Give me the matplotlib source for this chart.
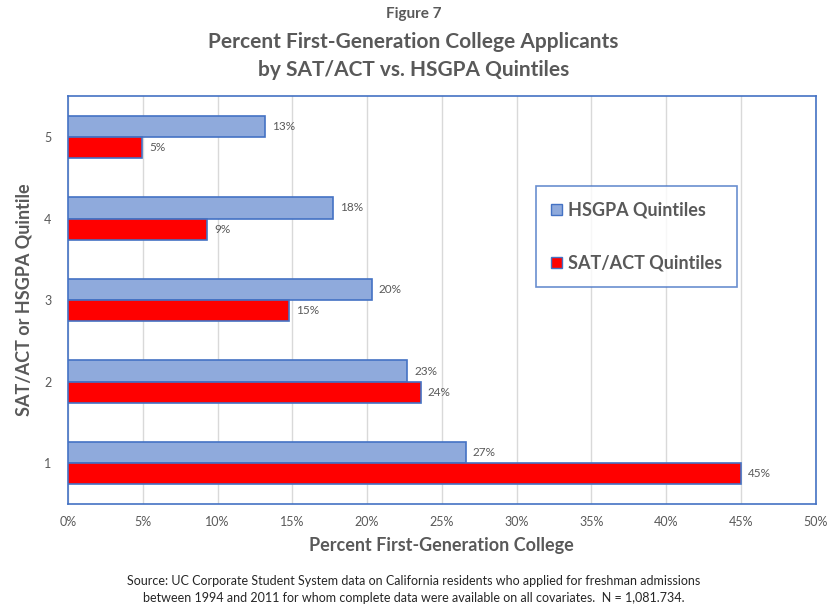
import numpy as np
import matplotlib
matplotlib.use("Agg")
import matplotlib.pyplot as plt
from matplotlib.patches import Patch

# Data
quintiles = [1, 2, 3, 4, 5]
hsgpa_pct = [26.6, 22.7, 20.3, 17.7, 13.2]
satact_pct = [45.0, 23.6, 14.8, 9.3, 4.95]
x_ticks = np.arange(0, 51, 5)

GRAY = '#595959'
BLUE_EDGE = '#4472C4'
HSGPA_FILL = '#8FAADC'
SAT_FILL = '#FF0000'

plt.rcParams['font.family'] = ['Lato', 'DejaVu Sans']

fig = plt.figure(figsize=(8.27, 6.05), dpi=100)
ax = fig.add_axes([0.0822, 0.167, 0.904, 0.674])

y = np.array(quintiles, dtype=float)
h = 0.26
b1 = ax.barh(y + h / 2, hsgpa_pct, height=h, color=HSGPA_FILL, edgecolor=BLUE_EDGE, linewidth=1.2, label='HSGPA Quintiles', zorder=3)
b2 = ax.barh(y - h / 2, satact_pct, height=h, color=SAT_FILL, edgecolor=BLUE_EDGE, linewidth=1.2, label='SAT/ACT Quintiles', zorder=3)

for bars in (b1, b2):
    for bar in bars:
        w = bar.get_width()
        ax.annotate(f'{w:.0f}%', (w, bar.get_y() + bar.get_height() / 2),
                    xytext=(5, 0), textcoords='offset points',
                    ha='left', va='center', fontsize=8.5, color=GRAY)

ax.set_xlim(0, 50)
ax.set_ylim(0.5, 5.5)
ax.set_xticks(x_ticks)
ax.set_xticklabels([f'{t}%' for t in x_ticks])
ax.set_yticks(quintiles)
ax.tick_params(axis='both', length=0, labelsize=9, labelcolor=GRAY)
ax.tick_params(axis='x', pad=9)
ax.tick_params(axis='y', pad=12)
ax.grid(axis='x', color='#D9D9D9', linewidth=1, zorder=0)
for s in ax.spines.values():
    s.set_color(BLUE_EDGE)
    s.set_linewidth(1.2)

ax.set_xlabel('Percent First-Generation College', fontsize=13, fontweight='bold', color=GRAY, labelpad=6)
ax.set_ylabel('SAT/ACT or HSGPA Quintile', fontsize=13, fontweight='bold', color=GRAY, labelpad=8)

handles = [Patch(facecolor=HSGPA_FILL, edgecolor=BLUE_EDGE), Patch(facecolor=SAT_FILL, edgecolor=BLUE_EDGE)]
leg = ax.legend(handles, ['HSGPA Quintiles', 'SAT/ACT Quintiles'],
                loc='upper left', bbox_to_anchor=(0.626, 0.779), fancybox=False,
                prop={'size': 13, 'weight': 'bold'}, labelspacing=2.0,
                handlelength=0.6, handleheight=0.6, handletextpad=0.3,
                borderpad=0.85, borderaxespad=0)
leg.get_frame().set_edgecolor(BLUE_EDGE)
leg.get_frame().set_linewidth(1.2)
for t in leg.get_texts():
    t.set_color(GRAY)

fig.text(0.5, 1 - 14 / 605, 'Figure 7', ha='center', va='center', fontsize=11, fontweight='bold', color=GRAY)
fig.text(0.5, 1 - 42 / 605, 'Percent First-Generation College Applicants', ha='center', va='center', fontsize=15, fontweight='bold', color=GRAY)
fig.text(0.5, 1 - 70 / 605, 'by SAT/ACT vs. HSGPA Quintiles', ha='center', va='center', fontsize=15, fontweight='bold', color=GRAY)
fig.text(0.5, 1 - 581 / 605, 'Source: UC Corporate Student System data on California residents who applied for freshman admissions',
         ha='center', va='center', fontsize=9, color='#262626')
fig.text(0.5, 1 - 598 / 605, 'between 1994 and 2011 for whom complete data were available on all covariates.  N = 1,081.734.',
         ha='center', va='center', fontsize=9, color='#262626')

fig.savefig('out.png', dpi=100)
